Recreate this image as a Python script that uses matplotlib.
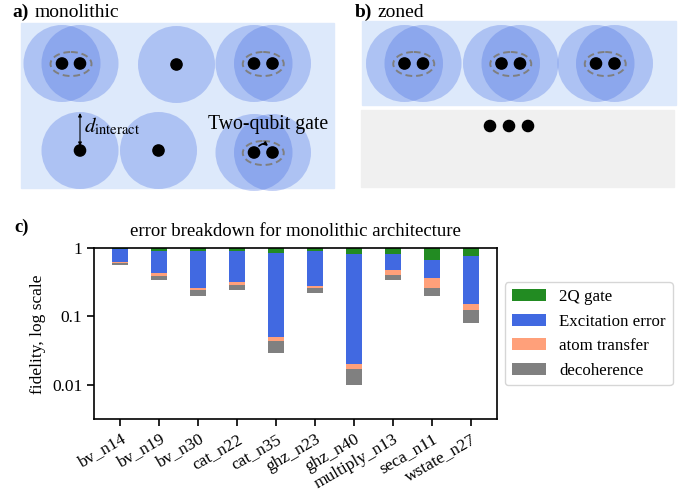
import numpy as np
import matplotlib
matplotlib.use("Agg")
import matplotlib.pyplot as plt
from matplotlib.patches import Rectangle, Circle, Ellipse, FancyArrowPatch

plt.rcParams['font.family'] = ['Liberation Serif', 'DejaVu Serif']
plt.rcParams['mathtext.fontset'] = 'stix'

# benchmark circuits
circuits = ['bv_n14', 'bv_n19', 'bv_n30', 'cat_n22', 'cat_n35',
            'ghz_n23', 'ghz_n40', 'multiply_n13', 'seca_n11', 'wstate_n27']

# fidelity remaining after each error source is applied (cumulative)
after_2q = [0.98, 0.904, 0.92, 0.91, 0.853, 0.91, 0.834, 0.834, 0.68, 0.78]
after_excitation = [0.63, 0.434, 0.262, 0.32, 0.050, 0.28, 0.0201, 0.48, 0.367, 0.152]
after_transfer = [0.603, 0.393, 0.245, 0.29, 0.0437, 0.262, 0.017, 0.406, 0.262, 0.126]
after_decoherence = [0.569, 0.346, 0.202, 0.247, 0.0295, 0.221, 0.010, 0.343, 0.2, 0.081]

labels = ['2Q gate', 'Excitation error', 'atom transfer', 'decoherence']
colors = ['forestgreen', 'royalblue', 'lightsalmon', 'gray']

fig = plt.figure(figsize=(6.83, 4.91), dpi=100)

# ---- schematic panels (pixel coordinates) ----
sk = fig.add_axes([0, 0, 1, 1])
sk.set_xlim(0, 683)
sk.set_ylim(491, 0)
sk.axis('off')

sk.add_patch(Rectangle((21, 23), 313, 165, color='#dde9fb', zorder=0))
sk.add_patch(Rectangle((362, 21), 314, 84, color='#dde9fb', zorder=0))
sk.add_patch(Rectangle((361, 110), 313, 77, color='#f0f0f0', zorder=0))

R = 38.5
def atom_site(x, y):
    sk.add_patch(Circle((x, y), R, color='royalblue', alpha=0.3, lw=0, zorder=1))
    sk.add_patch(Circle((x, y), 5.6, color='black', zorder=3))

def pair(x1, x2, y):
    atom_site(x1, y)
    atom_site(x2, y)
    sk.add_patch(Ellipse(((x1 + x2) / 2, y + 0.5), 41, 24, fill=False,
                         ec='#7f7f7f', lw=1.4, ls=(0, (3.5, 2)), zorder=2))

# monolithic
pair(62, 80, 63.5)
atom_site(176.5, 64.5)
pair(254, 272.5, 63.5)
atom_site(80, 150.5)
atom_site(158.5, 150.5)
pair(254, 272.5, 152.5)
sk.add_patch(FancyArrowPatch((257, 148), (270, 148), connectionstyle='arc3,rad=-0.6',
                             arrowstyle='-|>', mutation_scale=5, lw=1.2, color='black', zorder=4))
sk.annotate('', xy=(80, 113), xytext=(80, 146),
            arrowprops=dict(arrowstyle='<|-|>', lw=0.8, color='black',
                            mutation_scale=5, shrinkA=0, shrinkB=0))
sk.text(84, 132, r'$d_{\mathrm{interact}}$', fontsize=15, va='baseline')
sk.text(208, 129.5, 'Two-qubit gate', fontsize=14.2, va='baseline')

# zoned
pair(404.5, 423, 63.5)
pair(501.5, 520, 63.5)
pair(596, 614.5, 63.5)
for xd in (490, 509, 528):
    sk.add_patch(Circle((xd, 126), 5.6, color='black', zorder=3))

sk.text(12, 17, 'a)', fontsize=14, fontweight='bold', va='baseline')
sk.text(35, 17, 'monolithic', fontsize=14, va='baseline')
sk.text(355, 17, 'b)', fontsize=14, fontweight='bold', va='baseline')
sk.text(377, 17, 'zoned', fontsize=14, va='baseline')
sk.text(14, 231.5, 'c)', fontsize=13.5, fontweight='bold', va='baseline')

# ---- error breakdown bars ----
ax = fig.add_axes([94 / 683, (491 - 419.3) / 491, 403 / 683, 171 / 491])
x = np.arange(len(circuits))
levels = [np.ones(len(circuits)), after_2q, after_excitation, after_transfer, after_decoherence]
for i in range(4):
    top = np.array(levels[i])
    bottom = np.array(levels[i + 1])
    ax.bar(x, top - bottom, bottom=bottom, width=0.4, color=colors[i], label=labels[i])

ax.set_yscale('log')
ax.set_ylim(0.0031, 1)
ax.set_yticks([1, 0.1, 0.01])
ax.set_yticklabels(['1', '0.1', '0.01'])
ax.minorticks_off()
ax.set_xticks(x)
ax.set_xticklabels(circuits, rotation=30, ha='right', rotation_mode='anchor')
ax.tick_params(labelsize=12.5, length=5, width=1.2)
for s in ax.spines.values():
    s.set_linewidth(1.2)
ax.set_ylabel('fidelity, log scale', fontsize=12.5)
ax.set_title('error breakdown for monolithic architecture', fontsize=13.5, pad=9)
ax.legend(loc='center left', bbox_to_anchor=(1.02, 0.5), borderaxespad=0, fontsize=12.2)

fig.savefig('out.png', dpi=100)
